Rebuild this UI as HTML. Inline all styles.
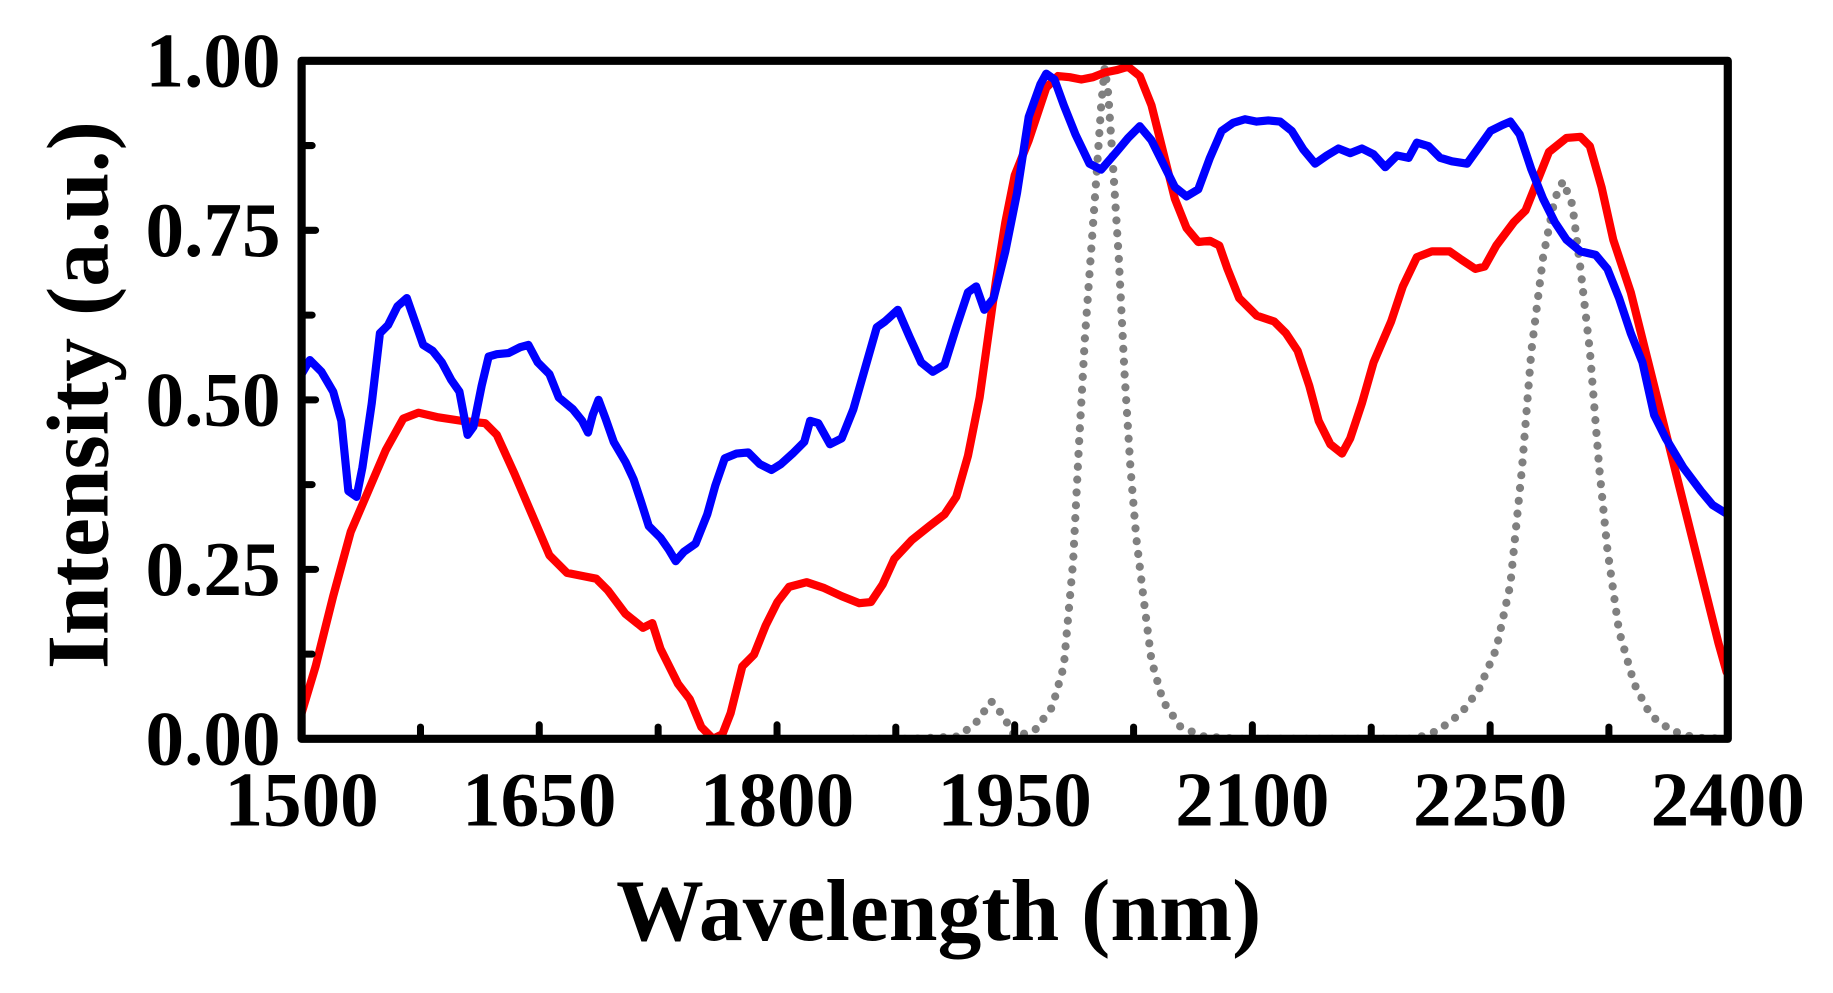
<!DOCTYPE html>
<html><head><meta charset="utf-8"><style>
html,body{margin:0;padding:0;background:#fff;}
svg{display:block;}
text{font-family:"Liberation Serif",serif;font-weight:bold;fill:#000;}
</style></head><body>
<svg width="1833" height="993" viewBox="0 0 1568 849.4" xmlns="http://www.w3.org/2000/svg">
<defs><clipPath id="c"><rect x="258" y="40" width="1220" height="592"/></clipPath></defs>
<g clip-path="url(#c)" fill="none" stroke-linejoin="round" stroke-linecap="round">
<polyline stroke="#808080" stroke-width="7" stroke-dasharray="0 11" points="730,632 780,632 820,630 835,618 848,600 858,612 868,630 885,625 900,605 910,570 918,480 923,380 928,290 933,220 938,150 942,90 945,58 948,80 952,140 957,220 962,320 967,400 972,460 978,510 985,565 995,600 1010,622 1030,630 1060,632 1210,632 1230,625 1250,610 1265,590 1280,555 1292,500 1302,400 1310,300 1320,220 1330,170 1337,155 1345,175 1352,230 1360,300 1368,400 1375,470 1385,540 1398,585 1412,612 1430,625 1450,631 1478,632"/>
<polyline stroke="#ff0000" stroke-width="7" points="258,610 270,570 285,510 300,455 315,420 330,385 345,358 358,353 375,357 395,360 415,362 425,372 440,405 455,440 470,475 485,490 500,493 510,495 520,505 535,525 550,537 558,533 565,555 580,585 590,598 600,622 610,632 618,628 625,610 635,570 645,560 655,535 665,515 675,502 690,498 705,503 720,510 735,516 745,515 755,500 765,478 780,462 795,450 808,440 818,425 828,390 838,340 845,290 852,240 860,190 868,150 880,120 895,75 905,65 915,66 925,68 935,66 945,62 955,60 965,57 975,65 985,90 995,130 1005,170 1015,195 1025,207 1035,206 1043,210 1050,230 1060,255 1075,270 1090,275 1100,285 1110,300 1120,330 1128,360 1138,380 1148,388 1155,375 1165,345 1175,310 1190,275 1200,245 1212,220 1225,215 1240,215 1250,222 1262,230 1270,228 1280,210 1295,190 1305,180 1315,155 1325,130 1340,118 1352,117 1360,125 1370,160 1380,205 1395,250 1410,310 1425,370 1440,430 1455,490 1470,550 1477,575"/>
<polyline stroke="#0000ff" stroke-width="7" points="258,320 265,308 275,318 285,335 292,360 298,420 305,425 310,400 318,345 325,285 332,278 340,262 348,255 355,275 362,295 370,300 378,310 386,325 393,335 400,372 405,365 412,330 418,305 425,303 435,302 445,297 452,295 460,310 470,320 478,340 490,350 498,360 503,370 507,355 512,342 518,358 525,378 535,395 542,410 548,428 555,450 565,460 572,470 578,480 585,472 595,465 605,440 612,415 620,392 630,388 640,387 650,397 660,402 668,397 678,388 688,378 693,360 700,362 710,380 720,375 730,350 740,315 750,280 757,275 768,265 778,288 788,310 798,318 808,312 818,280 828,250 835,245 842,265 850,255 860,215 870,165 880,100 890,72 895,63 902,68 910,90 920,115 932,140 942,145 955,130 965,118 975,108 985,120 995,140 1005,160 1015,168 1025,162 1035,135 1045,112 1055,105 1065,102 1075,104 1085,103 1095,104 1105,112 1115,128 1125,140 1135,133 1145,127 1155,131 1165,127 1175,132 1185,143 1195,133 1205,135 1212,122 1222,125 1232,135 1242,138 1255,140 1265,126 1275,112 1285,107 1292,104 1300,115 1310,145 1320,170 1330,190 1340,205 1352,215 1365,218 1375,230 1385,255 1395,285 1405,310 1415,355 1425,375 1440,400 1455,420 1465,432 1478,440"/>
</g>
<g stroke="#000" stroke-width="6" stroke-linecap="round">
<line x1="359.7" y1="632" x2="359.7" y2="622"/><line x1="461.3" y1="632" x2="461.3" y2="620"/>
<line x1="563" y1="632" x2="563" y2="622"/><line x1="664.7" y1="632" x2="664.7" y2="620"/>
<line x1="766.3" y1="632" x2="766.3" y2="622"/><line x1="868" y1="632" x2="868" y2="620"/>
<line x1="969.7" y1="632" x2="969.7" y2="622"/><line x1="1071.3" y1="632" x2="1071.3" y2="620"/>
<line x1="1173" y1="632" x2="1173" y2="622"/><line x1="1274.7" y1="632" x2="1274.7" y2="620"/>
<line x1="1376.3" y1="632" x2="1376.3" y2="622"/>
<line x1="258" y1="559.5" x2="267" y2="559.5"/><line x1="258" y1="487" x2="270" y2="487"/>
<line x1="258" y1="414.5" x2="267" y2="414.5"/><line x1="258" y1="342" x2="270" y2="342"/>
<line x1="258" y1="269.5" x2="267" y2="269.5"/><line x1="258" y1="197" x2="270" y2="197"/>
<line x1="258" y1="124.5" x2="267" y2="124.5"/>
</g>
<rect x="258" y="52" width="1220" height="580" fill="none" stroke="#000" stroke-width="7" stroke-linejoin="round"/>
<g font-size="66" text-anchor="end">
<text x="240" y="654">0.00</text>
<text x="240" y="509">0.25</text>
<text x="240" y="364">0.50</text>
<text x="240" y="219">0.75</text>
<text x="240" y="74">1.00</text>
</g>
<g font-size="66" text-anchor="middle">
<text x="258" y="706">1500</text>
<text x="461.3" y="706">1650</text>
<text x="664.7" y="706">1800</text>
<text x="868" y="706">1950</text>
<text x="1071.3" y="706">2100</text>
<text x="1274.7" y="706">2250</text>
<text x="1478" y="706">2400</text>
</g>
<text x="803" y="804" font-size="75" text-anchor="middle">Wavelength (nm)</text>
<text transform="translate(92,338) rotate(-90)" font-size="75" text-anchor="middle">Intensity (a.u.)</text>
</svg>
</body></html>
